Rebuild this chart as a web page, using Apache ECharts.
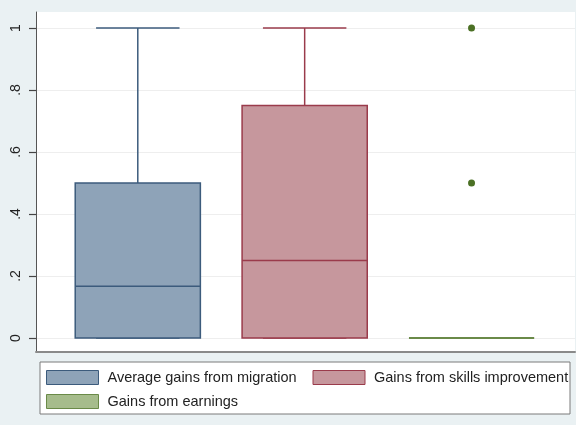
<!DOCTYPE html>
<html>
<head>
<meta charset="utf-8">
<script src="https://cdn.jsdelivr.net/npm/echarts@6/dist/echarts.min.js"></script>
<style>
html,body{margin:0;padding:0;background:#eaf1f3;}
#c{width:576px;height:425px;}
</style>
</head>
<body>
<div id="c"></div>
<script>
const categories = ['Average gains from migration', 'Gains from skills improvement', 'Gains from earnings'];
const mins    = [0, 0, 0];
const q1s     = [0, 0, 0];
const medians = [0.1667, 0.25, 0];
const q3s     = [0.5, 0.75, 0];
const maxs    = [1, 1, 0];
const outliers = [[], [], [0.5, 1]];
const yTicks = [0, 0.2, 0.4, 0.6, 0.8, 1];

const fills   = ['#8ea3b8', '#c6979d', '#a6bc8c'];
const borders = ['#3c5b7c', '#9a3b4b', '#6a8a48'];

const chart = echarts.init(document.getElementById('c'), null, {renderer: 'canvas'});

function renderBox(params, api) {
  const x = api.value(0);
  const pMin = api.coord([x, api.value(1)]);
  const pQ1 = api.coord([x, api.value(2)]);
  const pMed = api.coord([x, api.value(3)]);
  const pQ3 = api.coord([x, api.value(4)]);
  const pMax = api.coord([x, api.value(5)]);
  const unit = api.size([1, 0])[0];
  const hb = unit * 0.375;
  const hc = unit * 0.25;
  const i = params.seriesIndex;
  const stroke = borders[i];
  const st = {stroke: stroke, lineWidth: 1.5, fill: null};
  const children = [];
  children.push({type: 'line', shape: {x1: pQ3[0], y1: pQ3[1], x2: pMax[0], y2: pMax[1]}, style: st});
  children.push({type: 'line', shape: {x1: pQ1[0], y1: pQ1[1], x2: pMin[0], y2: pMin[1]}, style: st});
  children.push({type: 'line', shape: {x1: pMax[0] - hc, y1: pMax[1], x2: pMax[0] + hc, y2: pMax[1]}, style: st});
  children.push({type: 'line', shape: {x1: pMin[0] - hc, y1: pMin[1], x2: pMin[0] + hc, y2: pMin[1]}, style: st});
  children.push({type: 'rect', shape: {x: pQ3[0] - hb, y: pQ3[1], width: hb * 2, height: pQ1[1] - pQ3[1]},
    style: {fill: fills[i], stroke: stroke, lineWidth: 1.5}});
  children.push({type: 'line', shape: {x1: pMed[0] - hb, y1: pMed[1], x2: pMed[0] + hb, y2: pMed[1]},
    style: {stroke: stroke, lineWidth: (pQ1[1] === pQ3[1]) ? 2 : 1.5, fill: null}});
  return {type: 'group', children: children};
}

const series = categories.map((name, i) => ({
  name: name,
  type: 'custom',
  renderItem: renderBox,
  itemStyle: {color: fills[i], borderColor: borders[i], borderWidth: 1},
  encode: {x: 0, y: [1, 2, 3, 4, 5]},
  data: [[i, mins[i], q1s[i], medians[i], q3s[i], maxs[i]]],
  z: 3
}));

const outlierData = [];
outliers.forEach((arr, i) => arr.forEach(v => outlierData.push([i, v])));
series.push({
  name: 'outliers',
  type: 'scatter',
  symbol: 'circle',
  symbolSize: 7,
  itemStyle: {color: '#4b7024', opacity: 1},
  data: outlierData,
  z: 4
});

const fmt = v => (Math.abs(v - 1) < 1e-9 ? '1' : (Math.abs(v) < 1e-9 ? '0' : String(+v.toFixed(1)).replace(/^0\./, '.')));

const option = {
  backgroundColor: '#eaf1f3',
  animation: false,
  textStyle: {fontFamily: 'Liberation Sans, Arial, sans-serif'},
  grid: {left: 36, right: 1, top: 12, bottom: 73, show: true, backgroundColor: '#ffffff', borderWidth: 0},
  xAxis: {type: 'value', min: -0.61, max: 2.62,
    axisLine: {show: true, onZero: false, lineStyle: {color: '#8a8a8a', width: 2}},
    axisTick: {show: false}, axisLabel: {show: false}, splitLine: {show: false}},
  yAxis: {type: 'value', min: -0.0452, max: 1.0516, position: 'left',
    axisLine: {show: true, onZero: false, lineStyle: {color: '#555', width: 1}},
    axisTick: {show: true, length: 7, customValues: yTicks, lineStyle: {color: '#444', width: 1.2}},
    axisLabel: {show: true, rotate: 90, margin: 13, color: '#222', fontSize: 14, customValues: yTicks,
      fontFamily: 'Liberation Sans, Arial, sans-serif', formatter: fmt},
    splitLine: {show: true, lineStyle: {color: '#eeeeee', width: 1}}},
  legend: {
    left: 40,
    top: 362,
    orient: 'horizontal',
    width: 530,
    padding: [8, 0, 5, 6],
    itemWidth: 52,
    itemHeight: 14,
    itemGap: 9,
    backgroundColor: '#ffffff',
    borderColor: '#7a7a7a',
    borderWidth: 1,
    borderRadius: 0,
    textStyle: {fontSize: 14.5, color: '#222', width: 196, lineHeight: 14, overflow: 'truncate',
      padding: [0, 0, 0, 4], fontFamily: 'Liberation Sans, Arial, sans-serif'},
    data: categories.map((name, i) => ({
      name: name, icon: 'rect',
      itemStyle: {color: fills[i], borderColor: borders[i], borderWidth: 1}
    }))
  },
  series: series
};

chart.setOption(option);
</script>
</body>
</html>
